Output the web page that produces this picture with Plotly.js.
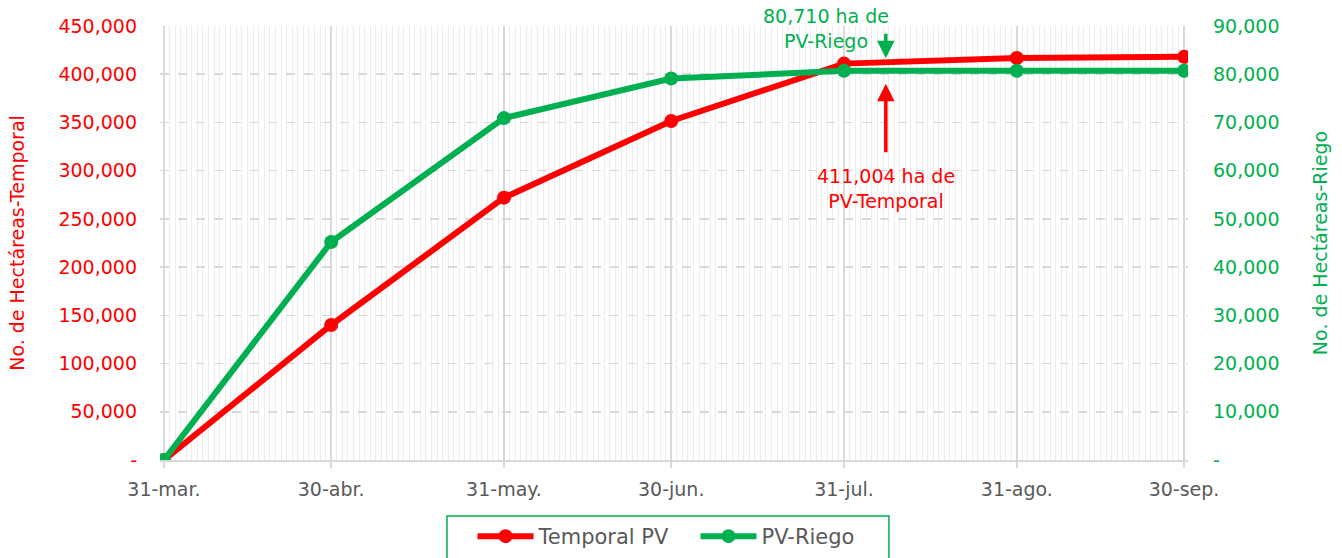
<!DOCTYPE html>
<html>
<head>
<meta charset="utf-8">
<script src="https://cdn.plot.ly/plotly-3.0.1.min.js"></script>
<style>html,body{margin:0;padding:0;background:#fff;}#chart{width:1342px;height:558px;}</style>
</head>
<body>
<div id="chart"></div>
<script>
const dates = ['2023-03-31','2023-04-30','2023-05-31','2023-06-30','2023-07-31','2023-08-31','2023-09-30'];
const xTickText = ['31-mar.','30-abr.','31-may.','30-jun.','31-jul.','31-ago.','30-sep.'];
const temporalPV = [0, 140000, 272000, 351500, 411004, 416800, 418000];
const pvRiego = [0, 45200, 70900, 79100, 80710, 80710, 80710];
const leftTicks = [0,50000,100000,150000,200000,250000,300000,350000,400000,450000];
const leftTickText = ['-','50,000','100,000','150,000','200,000','250,000','300,000','350,000','400,000','450,000'];
const rightTicks = [0,10000,20000,30000,40000,50000,60000,70000,80000,90000];
const rightTickText = ['-','10,000','20,000','30,000','40,000','50,000','60,000','70,000','80,000','90,000'];

const RED = '#FF0000', GREEN = '#00B050', GRAY = '#595959';
const FONT = 'DejaVu Sans, sans-serif';

const traces = [
  {x: dates, y: temporalPV, name: 'Temporal PV', type: 'scatter', mode: 'lines+markers',
   line: {color: RED, width: 6}, marker: {color: RED, size: 14}, yaxis: 'y', hoverinfo: 'skip'},
  {x: dates, y: pvRiego, name: 'PV-Riego', type: 'scatter', mode: 'lines+markers',
   line: {color: GREEN, width: 6}, marker: {color: GREEN, size: 14}, yaxis: 'y2', hoverinfo: 'skip'}
];

const layout = {
  width: 1342, height: 558,
  margin: {l: 160, r: 154, t: 26, b: 98, autoexpand: false},
  paper_bgcolor: '#fff', plot_bgcolor: '#fff',
  font: {family: FONT, size: 19, color: GRAY},
  showlegend: true,
  legend: {orientation: 'h', x: 0.304, xanchor: 'left', y: -0.129, yanchor: 'top',
    bgcolor: 'rgba(0,0,0,0)', borderwidth: 0, font: {size: 21, color: GRAY},
    itemwidth: 56, entrywidth: 152, traceorder: 'normal'},
  shapes: [
    {type: 'rect', xref: 'paper', yref: 'paper', x0: 0.2792, x1: 0.7091, y0: -0.129, y1: -0.235,
     line: {color: GREEN, width: 1.5}, fillcolor: 'rgba(0,0,0,0)', layer: 'below'}
  ],
  xaxis: {
    type: 'date', range: ['2023-03-30 07:00', '2023-09-30 17:00'],
    tickmode: 'array', tickvals: dates, ticktext: xTickText,
    showgrid: true, gridcolor: '#D9D9D9', gridwidth: 1.5,
    ticks: 'outside', ticklen: 6, tickcolor: '#D9D9D9', tickwidth: 1.5,
    ticklabelstandoff: 6,
    showline: true, linecolor: '#D9D9D9', linewidth: 1.5,
    tickfont: {size: 19, color: GRAY},
    minor: {dtick: 86400000, tick0: '2023-03-31', showgrid: true, gridcolor: '#ECECEC', gridwidth: 1},
    zeroline: false, fixedrange: true
  },
  yaxis: {
    range: [0, 450000], tickmode: 'array', tickvals: leftTicks, ticktext: leftTickText,
    showgrid: true, gridcolor: '#D9D9D9', griddash: 'dash', gridwidth: 1.5,
    zeroline: false, ticks: '', ticklabelstandoff: 22,
    tickfont: {size: 19, color: RED},
    title: {text: 'No. de Hectáreas-Temporal', font: {size: 19, color: RED}, standoff: 28},
    fixedrange: true
  },
  yaxis2: {
    range: [0, 90000], overlaying: 'y', side: 'right', tickmode: 'array',
    tickvals: rightTicks, ticktext: rightTickText, showgrid: false, zeroline: false,
    ticks: '', ticklabelstandoff: 24,
    tickfont: {size: 19, color: GREEN},
    title: {text: 'No. de Hectáreas-Riego', font: {size: 19, color: GREEN}, standoff: 35},
    fixedrange: true
  },
  annotations: [
    {xref: 'x', yref: 'y', x: '2023-08-07 12:00', y: 390000, ax: 0, ay: 70,
     text: '', showarrow: true, arrowhead: 2, arrowsize: 1, arrowwidth: 3.5, arrowcolor: RED},
    {xref: 'x', yref: 'y', x: '2023-08-07 12:00', y: 308000, yanchor: 'top',
     text: '411,004 ha de<br>PV-Temporal', showarrow: false,
     font: {size: 19, color: RED}},
    {xref: 'x', yref: 'y', x: '2023-08-07 12:00', y: 416500, ax: 0, ay: -26,
     text: '', showarrow: true, arrowhead: 2, arrowsize: 1, arrowwidth: 3.5, arrowcolor: GREEN},
    {xref: 'x', yref: 'paper', x: '2023-07-27 17:00', y: 1.053, yanchor: 'top',
     text: '80,710 ha de<br>PV-Riego', showarrow: false,
     font: {size: 19, color: GREEN}}
  ]
};

Plotly.newPlot('chart', traces, layout, {displayModeBar: false, staticPlot: true});
</script>
</body>
</html>
